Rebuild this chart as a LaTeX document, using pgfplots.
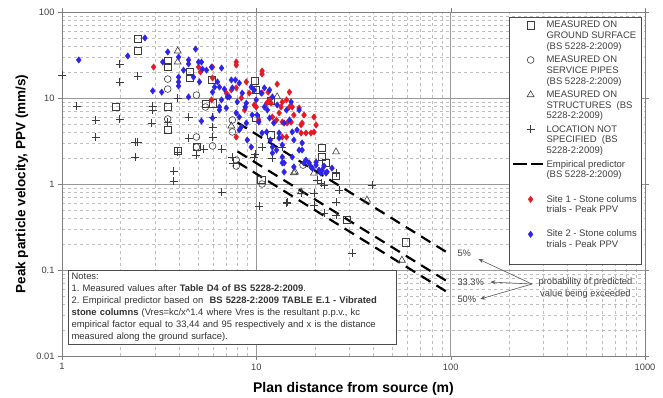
\documentclass[border=0pt]{standalone}
\usepackage{pgfplots}
\pgfplotsset{compat=1.18}
\usepackage{fontspec}
\setmainfont{Liberation Sans}
\usetikzlibrary{arrows.meta}
\definecolor{ptblue}{RGB}{45,35,235}
\definecolor{ptred}{RGB}{232,25,35}
\definecolor{mk}{RGB}{60,60,60}
\frenchspacing
\pgfplotsset{
  uplegmark/.style={legend image code/.code={%
    \draw[mark repeat=2,mark phase=2,##1] plot coordinates {(0cm,10.8pt)(0.3cm,10.8pt)(0.6cm,10.8pt)};
    \path[draw=none,fill=none] (0.3cm,-14pt) -- (0.3cm,14pt);}},
  uplegline/.style={legend image code/.code={%
    \draw[black, line width=2.2pt, dash pattern=on 14pt off 4pt] (-0.33cm,10.8pt) -- (0.75cm,10.8pt);
    \path[draw=none,fill=none] (0.3cm,-12pt) -- (0.3cm,12pt);}},
}
\begin{document}
\begin{tikzpicture}
\useasboundingbox (-62pt,-42pt) rectangle (601pt,356pt);
\begin{axis}[
  at={(0pt,0pt)}, anchor=south west,
  scale only axis, width=583pt, height=344pt,
  xmode=log, ymode=log,
  xmin=1, xmax=1000, ymin=0.01, ymax=100,
  xtick={1,10,100,1000}, xticklabels={1,10,100,1000},
  ytick={0.01,0.1,1,10,100}, yticklabels={0.01,0.1,1,10,100},
  tick align=outside, major tick length=4pt, minor tick length=0pt,
  tick style={black!50},
  axis line style={black!50},
  grid=both,
  major grid style={black!40, line width=0.5pt},
  minor grid style={black!25, dashed, line width=0.4pt},
  ticklabel style={font=\fontsize{9.3}{10}\selectfont, text=black!75},
  legend style={at={(1,1)}, anchor=north east, xshift=-4pt, yshift=-5pt,
    draw=black!70, fill=white, font=\fontsize{9.5}{10.8}\selectfont, text=black!75,
    inner sep=2pt, row sep=1pt, cells={align=left}},
  legend cell align=left,
]
\addplot[only marks, mark=square, mark size=3.6pt, mk, mark options={line width=0.6pt}, uplegmark] coordinates {
(2.45,48.5)(2.45,35.2)(1.89,7.86)(3.50,26.9)(3.50,22.9)(3.50,7.86)(3.50,4.25)(3.94,2.42)(4.53,20.1)(4.53,17.1)(4.92,2.69)(5.88,16.2)(5.47,8.5)(5.95,8.7)(9.86,15.8)(9.98,12.4)(11.9,9.2)(9.98,5.85)(21.8,2.62)(21.8,2.06)(22.8,1.76)(25.7,1.24)(11.9,3.71)(10.6,1.11)(29.3,0.38)(58.8,0.21)
};
\addlegendentry{MEASURED ON\\GROUND SURFACE\\(BS 5228-2:2009)}
\addplot[only marks, mark=o, mark size=3.4pt, mk, mark options={line width=0.6pt}, uplegmark] coordinates {
(3.50,16.6)(3.50,12.7)(3.50,5.70)(4.92,10.8)(4.92,3.52)(4.92,2.69)(5.95,2.77)(5.47,7.86)(7.53,5.55)(7.53,4.03)(7.88,1.90)(7.88,1.62)(10.7,1.00)(18.0,1.76)(17.4,1.66)
};
\addlegendentry{MEASURED ON\\SERVICE PIPES\\(BS 5228-2:2009)}
\addplot[only marks, mark=triangle, mark size=4pt, mk, mark options={line width=0.6pt}, uplegmark] coordinates {
(3.94,35.2)(3.94,26.2)(7.44,4.73)(12.8,10.3)(25.7,2.36)(15.8,1.38)(19.8,1.34)(17.0,0.81)(37.1,0.65)(56.1,0.13)(15.6,1.35)
};
\addlegendentry{MEASURED ON\\STRUCTURES \ (BS\\5228-2:2009)}
\addplot[only marks, mark=+, mark size=4pt, mk, mark options={line width=0.6pt}, uplegmark] coordinates {
(1.0,18.5)(1.19,8.07)(1.49,5.55)(1.49,3.52)(1.98,24.9)(1.98,15.4)(1.98,5.70)(2.37,3.08)(2.45,3.08)(2.37,2.06)(2.45,18.0)(2.93,8.07)(2.93,7.25)(2.89,5.12)(3.50,5.26)(3.75,1.42)(3.75,1.08)(3.94,10.0)(3.94,2.36)(4.48,6.01)(4.48,3.43)(4.92,2.17)(5.35,2.55)(5.95,6.01)(5.95,4.60)(5.95,3.52)(6.62,2.55)(6.62,0.81)(7.53,2.06)(7.60,1.76)(9.75,2.06)(10.7,2.69)(10.3,0.555)(14.3,0.60)(17.0,0.79)(19.8,0.79)(19.8,0.57)(21.5,1.03)(25.7,0.62)(25.7,0.435)(22.3,0.46)(20.5,1.11)(9.86,2.23)(13.6,2.69)(22.3,0.97)(26.6,0.85)(39.3,0.97)(25.7,1.34)(12.1,2.00)(14.4,0.62)(31.1,0.158)
};
\addlegendentry{LOCATION NOT\\SPECIFIED \ (BS\\5228-2:2009)}
\addplot[black, line width=2.2pt, dash pattern=on 11pt off 7pt, uplegline] coordinates {(8,5.17)(100,0.1506)};
\addlegendentry{Empirical predictor\\(BS 5228-2:2009)\\\mbox{}}
\addplot[black, line width=2.2pt, dash pattern=on 11pt off 7pt, forget plot] coordinates {(8,2.39)(100,0.0697)};
\addplot[black, line width=2.2pt, dash pattern=on 11pt off 7pt, forget plot] coordinates {(8,1.795)(100,0.0523)};
\addplot[only marks, mark=diamond*, mark size=3.2pt, ptred, mark options={draw=ptred, fill=ptred}, uplegmark] coordinates {
(2.96,22.9)(5.04,22.9)(5.16,20.1)(5.95,22.9)(5.95,17.1)(7.88,26.2)(7.88,24.2)(7.88,13.1)(7.88,3.52)(8.88,15.4)(9.19,11.4)(9.98,7.86)(10.7,20.6)(10.7,19.0)(10.7,11.4)(11.3,8.7)(11.5,11.7)(12.1,6.01)(12.8,14.5)(13.4,7.86)(14.3,9.5)(14.3,3.52)(14.4,5.12)(15.3,7.86)(15.6,6.34)(16.6,7.66)(17.0,4.86)(17.6,6.34)(18.0,3.92)(19.8,6.01)(19.8,4.03)(20.3,4.86)(19.1,3.92)(13.6,9.0)(13.1,6.70)(14.8,7.86)(15.1,5.26)(17.2,5.12)(17.0,3.92)(13.6,5.26)(12.7,5.55)(13.6,3.52)(11.9,8.7)(14.8,11.7)(7.01,11.4)(8.37,10.0)(11.7,9.5)(5.88,9.5)(10.3,5.55)(8.7,7.25)(9.75,8.3)(7.44,12.4)
};
\addlegendentry{Site 1 - Stone colums\\trials - Peak PPV\\\mbox{}}
\addplot[only marks, mark=diamond*, mark size=3.2pt, ptblue, mark options={draw=ptblue, fill=ptblue}, uplegmark] coordinates {
(1.22,27.7)(2.18,30.8)(2.67,49.9)(2.93,12.1)(3.26,11.7)(3.30,26.2)(3.50,34.3)(3.98,29.9)(3.98,17.5)(3.98,15.4)(3.98,13.8)(4.22,21.1)(4.48,27.7)(4.48,24.9)(4.48,10.3)(4.75,17.5)(4.87,37.1)(5.04,26.2)(5.10,15.4)(5.22,5.40)(5.28,21.7)(5.88,22.9)(5.95,11.7)(5.95,5.85)(6.31,15.4)(6.62,22.3)(6.46,13.4)(6.85,12.7)(6.46,7.25)(7.01,7.66)(7.26,10.3)(7.53,13.1)(7.80,16.2)(7.98,9.0)(8.17,6.01)(8.17,4.25)(8.46,11.4)(8.77,7.86)(8.88,5.12)(8.98,3.25)(9.41,13.4)(9.41,2.69)(9.98,9.5)(10.1,6.34)(10.7,3.92)(11.0,13.1)(11.4,7.25)(11.8,3.25)(12.1,10.3)(12.3,5.12)(12.7,2.48)(13.1,3.92)(13.6,2.84)(13.9,1.76)(14.3,7.25)(14.8,5.55)(15.1,9.0)(15.3,2.06)(15.6,3.25)(16.2,4.25)(16.6,2.48)(17.2,3.00)(18.0,1.90)(19.1,1.58)(20.3,1.80)(21.0,1.45)(22.3,1.62)(23.1,1.38)(24.5,1.53)(17.2,2.48)(18.7,1.76)(20.3,1.66)(21.8,1.45)(22.8,1.34)(15.3,4.03)(13.9,5.12)(13.1,3.43)(12.1,2.69)(13.6,2.06)(11.3,4.03)(10.3,5.26)(11.0,7.86)(9.52,6.34)(8.88,8.7)(8.37,4.60)(7.88,6.70)(7.10,10.3)(6.46,7.86)(6.10,13.4)(5.54,21.1)(5.22,26.2)(12.1,2.29)(13.6,1.76)(13.9,1.38)(15.6,1.58)(17.6,1.76)(19.4,1.53)(21.5,1.34)(7.44,16.2)(8.17,14.9)(6.62,9.5)(10.6,11.4)(11.7,5.85)(12.8,8.3)(16.6,7.25)(11.7,12.4)(9.75,12.4)
};
\addlegendentry{Site 2 - Stone colums\\trials - Peak PPV\\\mbox{}}
\node[draw=black!70, fill=white, anchor=north west, inner xsep=3.5pt, inner ysep=3pt,
  text width=321pt, align=left, font=\fontsize{9.4}{12}\selectfont, text=black!80]
  at (axis cs:1.073,0.1) {Notes:\\1. Measured values after \textbf{Table D4 of BS 5228-2:2009}.\\2. Empirical predictor based on \ \textbf{BS 5228-2:2009 TABLE E.1 - Vibrated}\\\textbf{stone columns} (Vres=kc/x\textasciicircum1.4 where Vres is the resultant p.p.v., kc\\empirical factor equal to 33,44 and 95 respectively and x is the distance\\measured along the ground surface).};
\node[anchor=west, font=\fontsize{9.3}{10}\selectfont, text=black!75] at (axis cs:104,0.158) {5\%};
\node[anchor=west, font=\fontsize{9.3}{10}\selectfont, text=black!75] at (axis cs:104,0.0725) {33.3\%};
\node[anchor=west, font=\fontsize{9.3}{10}\selectfont, text=black!75] at (axis cs:104,0.046) {50\%};
\draw[-{Stealth[length=5pt,width=4pt]}, black!65, line width=0.6pt] (axis cs:262,0.0687) -- (axis cs:139,0.134);
\draw[-{Stealth[length=5pt,width=4pt]}, black!65, line width=0.6pt] (axis cs:262,0.0687) -- (axis cs:160,0.0725);
\draw[-{Stealth[length=5pt,width=4pt]}, black!65, line width=0.6pt] (axis cs:262,0.0687) -- (axis cs:142,0.046);
\node[anchor=west, align=center, font=\fontsize{9.3}{11.5}\selectfont, text=black!75] at (axis cs:272,0.0618) {probability of predicted\\value being exceeded};
\end{axis}
\node[rotate=90, font=\bfseries\fontsize{13.5}{15}\selectfont] at (-40pt,172pt) {Peak particle velocity, PPV (mm/s)};
\node[font=\bfseries\fontsize{14}{16}\selectfont, anchor=base] at (291.5pt,-37pt) {Plan distance from source (m)};
\end{tikzpicture}
\end{document}
